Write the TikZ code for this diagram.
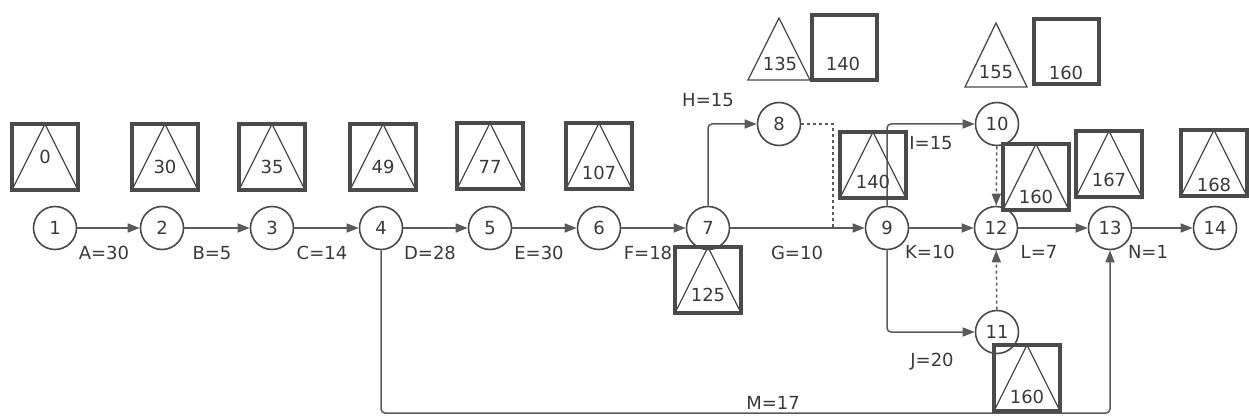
\documentclass[tikz,border=0pt]{standalone}
\usepackage{fontspec}
\setmainfont{DejaVu Sans}
\usetikzlibrary{arrows.meta}
\definecolor{ln}{HTML}{5A5A5A}
\definecolor{bx}{HTML}{4A4A4A}
\definecolor{tx}{HTML}{3A3A3A}
\begin{document}
\begin{tikzpicture}[x=1pt,y=-1pt,
  font=\fontsize{18}{21}\selectfont,
  ev/.style={circle,draw=bx,line width=1.6pt,fill=white,minimum size=43pt,inner sep=0pt,text=tx},
  tribox/.style={draw=bx,line width=4pt,minimum size=66pt,inner sep=0pt,
    path picture={\draw[bx,line width=1.3pt] (path picture bounding box.south west) -- (path picture bounding box.north) -- (path picture bounding box.south east);}},
  sqbox/.style={draw=bx,line width=4pt,minimum size=65pt,inner sep=0pt},
  lab/.style={text=tx,inner sep=0pt},
  ed/.style={draw=ln,line width=1.5pt,-{Triangle[length=12pt,width=9pt]}},
  dt/.style={draw=ln,line width=1.5pt,dash pattern=on 3pt off 3pt},
  thin tri/.style={draw=bx,line width=1.3pt}
]
\fill[white] (0,0) rectangle (1249,417);
\useasboundingbox (0,0) rectangle (1249,417);

% events
\node[ev] (1) at (55,228) {1};
\node[ev] (2) at (162,228) {2};
\node[ev] (3) at (272,228) {3};
\node[ev] (4) at (381,228) {4};
\node[ev] (5) at (490,228) {5};
\node[ev] (6) at (599,228) {6};
\node[ev] (7) at (708,228) {7};
\node[ev] (8) at (779,124) {8};
\node[ev] (9) at (887,228) {9};
\node[ev] (10) at (997,124) {10};
\node[ev] (11) at (997,332) {11};
\node[ev] (12) at (996,228) {12};
\node[ev] (13) at (1110,228) {13};
\node[ev] (14) at (1215,228) {14};

% activities
\draw[ed] (1) -- (2);
\draw[ed] (2) -- (3);
\draw[ed] (3) -- (4);
\draw[ed] (4) -- (5);
\draw[ed] (5) -- (6);
\draw[ed] (6) -- (7);
\draw[ed] (7) -- (9);
\draw[ed,rounded corners=4pt] (7) |- (8);
\draw[ed,rounded corners=4pt] (9) |- (10);
\draw[ed,rounded corners=4pt] (9) |- (11);
\draw[ed] (9) -- (12);
\draw[ed] (12) -- (13);
\draw[ed] (13) -- (14);
\coordinate (mb) at (381,413);
\draw[ed,rounded corners=4pt] (4.south) -- (mb) -| (13.south);
\coordinate (gj) at (833,228);
\draw[dt] (8.east) -| (gj);
\draw[dt,-{Triangle[length=12pt,width=9pt]}] (10) -- (12);
\draw[dt,-{Triangle[length=12pt,width=9pt]}] (11) -- (12);

% activity labels
\node[lab] (lA) at (104,253) {A=30};
\node[lab] (lB) at (212,253) {B=5};
\node[lab] (lC) at (322,253) {C=14};
\node[lab] (lD) at (430,253) {D=28};
\node[lab] (lE) at (539,253) {E=30};
\node[lab] (lF) at (648,253) {F=18};
\node[lab] (lG) at (797,253) {G=10};
\node[lab] (lK) at (930,252) {K=10};
\node[lab] (lL) at (1039,252) {L=7};
\node[lab] (lN) at (1148,252) {N=1};
\node[lab] (lH) at (708,100) {H=15};
\node[lab] (lI) at (931,143) {I=15};
\node[lab] (lJ) at (932,362) {J=20};
\node[lab] (lM) at (773,403) {M=17};

% time boxes
\node[tribox,label={[lab]center:0}] (b1) at (45,157) {};
\node[tribox,label={[lab,yshift=-10pt]center:30}] (b2) at (165,157) {};
\node[tribox,label={[lab,yshift=-10pt]center:35}] (b3) at (272,157) {};
\node[tribox,label={[lab,yshift=-10pt]center:49}] (b4) at (383,157) {};
\node[tribox,label={[lab,yshift=-11pt]center:77}] (b5) at (490,156) {};
\node[tribox,label={[lab,yshift=-17pt]center:107}] (b6) at (599,156) {};
\node[tribox,label={[lab,yshift=-15pt]center:125}] (b7) at (708,280) {};
\node[tribox,label={[lab,yshift=-17pt]center:140}] (b9) at (873,165) {};
\node[tribox,label={[lab,yshift=-20pt]center:160}] (b12) at (1036,177) {};
\node[tribox,label={[lab,yshift=-16pt]center:167}] (b13) at (1109,164) {};
\node[tribox,label={[lab,yshift=-22pt]center:168}] (b14) at (1214,163) {};
\node[tribox,label={[lab,yshift=-19pt]center:160}] (b11) at (1027,378) {};

% top pairs
\draw[thin tri] (748,80) -- (779,18) -- (810,80) -- cycle;
\node[lab] (t8) at (780,64) {135};
\node[sqbox] (s8) at (844,47.5) {};
\node[lab] (s8n) at (843,64) {140};
\draw[thin tri] (965,87) -- (996,23) -- (1027,87) -- cycle;
\node[lab] (t10) at (996,72) {155};
\node[sqbox] (s10) at (1066,52) {};
\node[lab] (s10n) at (1066,73) {160};
\end{tikzpicture}
\end{document}
